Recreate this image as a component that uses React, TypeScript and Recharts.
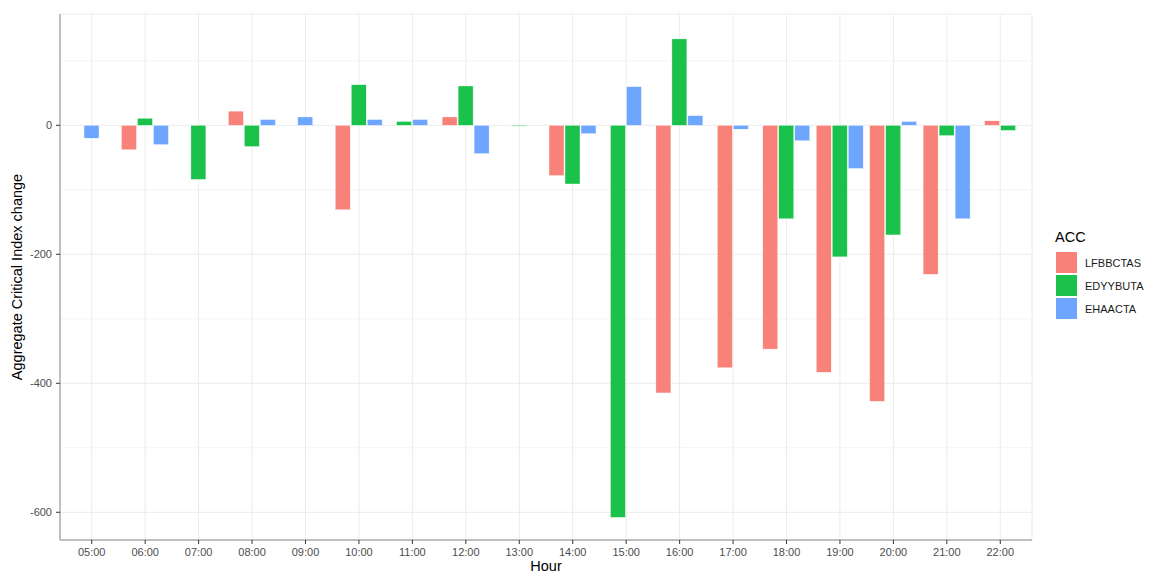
import React from 'react'
import {
  BarChart, Bar, XAxis, YAxis, CartesianGrid,
} from 'recharts'

const HOURS = [
  '05:00', '06:00', '07:00', '08:00', '09:00', '10:00', '11:00', '12:00', '13:00',
  '14:00', '15:00', '16:00', '17:00', '18:00', '19:00', '20:00', '21:00', '22:00',
]

// null = no bar for that ACC in that hour
const LFBBCTAS = [null, -38, null, 22, null, -131, null, 13, null, -78, null, -415, -376, -347, -383, -428, -231, 7]
const EDYYBUTA = [null, 11, -84, -33, null, 63, 6, 61, -1, -91, -608, 134, null, -145, -204, -170, -16, -8]
const EHAACTA = [-20, -30, null, 9, 13, 9, 9, -44, null, -13, 60, 15, -6, -24, -67, 6, -145, null]

const MAJOR_TICKS = [-600, -400, -200, 0]
const MINOR_TICKS = [-500, -300, -100, 100]

const SERIES = [
  { key: 'LFBBCTAS', color: '#F8817A', values: LFBBCTAS },
  { key: 'EDYYBUTA', color: '#1AC14B', values: EDYYBUTA },
  { key: 'EHAACTA', color: '#6EA6FF', values: EHAACTA },
]
const KEYS = SERIES.map(s => s.key)

const data = HOURS.map((hour, i) => {
  const row: any = { hour }
  SERIES.forEach(s => { row[s.key] = s.values[i] })
  return row
})

const FONT = '"Liberation Sans", Arial, Helvetica, sans-serif'
const BAR_SIZE = 15
const BAR_GAP = 1
const BORDER = '#8a8a8a'
const Y_DOMAIN = [-643, 172.6]

// ggplot-like dodge: bars that exist in an hour are centred on the tick
const dodgeShape = (key: string, color: string) => (props: any) => {
  const { x, y, width, height, payload } = props
  if (!payload || payload[key] == null || width == null) return <g />
  const present = KEYS.filter(k => payload[k] != null)
  const k = KEYS.indexOf(key)
  const shift = (present.indexOf(key) - (present.length - 1) / 2 - (k - (KEYS.length - 1) / 2)) * (width + BAR_GAP)
  const top = Math.min(y, y + height)
  const h = Math.max(Math.abs(height), 0.8)
  return <rect x={x + shift} y={top} width={width} height={h} fill={color} stroke="#ffffff" strokeWidth={0.4} />
}

const YLabel = ({ viewBox }: any) => {
  const cy = viewBox.y + viewBox.height / 2
  return (
    <text x={22} y={cy} transform={`rotate(-90, 22, ${cy})`} textAnchor="middle"
      fontSize={14.5} fill="#000" fontFamily={FONT}>
      Aggregate Critical Index change
    </text>
  )
}

const XLabel = ({ viewBox }: any) => (
  <text x={viewBox.x + viewBox.width / 2} y={viewBox.y + 31} textAnchor="middle"
    fontSize={14.5} fill="#000" fontFamily={FONT}>
    Hour
  </text>
)

export default function App() {
  return (
    <div style={{ position: 'absolute', left: 0, top: 0, width: 1149, height: 574, background: '#fff', fontFamily: FONT }}>
      <BarChart
        width={1149}
        height={574}
        data={data}
        margin={{ top: 14, right: 117, bottom: 0, left: 0 }}
        barSize={BAR_SIZE}
        barGap={BAR_GAP}
      >
        <CartesianGrid vertical={false} horizontalValues={MINOR_TICKS} stroke="#f4f4f4" strokeWidth={1} />
        <CartesianGrid stroke="#ebebeb" strokeWidth={1} />
        <XAxis
          dataKey="hour"
          height={34}
          padding={{ left: 5, right: 5 }}
          interval={0}
          tickSize={4}
          tickMargin={4}
          tick={{ fontSize: 11, fill: '#4d4d4d', fontFamily: FONT }}
          tickLine={{ stroke: '#333' }}
          axisLine={{ stroke: BORDER }}
          label={<XLabel />}
        />
        <XAxis xAxisId="top" dataKey="hour" orientation="top" height={0} tick={false} tickLine={false} axisLine={{ stroke: BORDER }} />
        <YAxis
          type="number"
          width={60}
          domain={Y_DOMAIN}
          allowDataOverflow
          ticks={MAJOR_TICKS}
          tickSize={4}
          tickMargin={4}
          tick={{ fontSize: 11, fill: '#4d4d4d', fontFamily: FONT }}
          tickLine={{ stroke: '#333' }}
          axisLine={{ stroke: BORDER }}
          label={<YLabel />}
        />
        <YAxis yAxisId="right" orientation="right" width={0} domain={Y_DOMAIN} tick={false} tickLine={false} axisLine={{ stroke: BORDER }} />
        {SERIES.map(s => (
          <Bar
            key={s.key}
            dataKey={s.key}
            fill={s.color}
            isAnimationActive={false}
            shape={dodgeShape(s.key, s.color)}
          />
        ))}
      </BarChart>
      <div style={{ position: 'absolute', left: 1055, top: 229, fontFamily: FONT }}>
        <div style={{ fontSize: 14.5, color: '#000', marginBottom: 6 }}>ACC</div>
        {SERIES.map(s => (
          <div key={s.key} style={{ display: 'flex', alignItems: 'center', height: 23 }}>
            <div style={{ width: 21, height: 21, background: s.color, border: '0.5px solid #fff' }} />
            <span style={{ fontSize: 11, color: '#1a1a1a', marginLeft: 7 }}>{s.key}</span>
          </div>
        ))}
      </div>
    </div>
  )
}
